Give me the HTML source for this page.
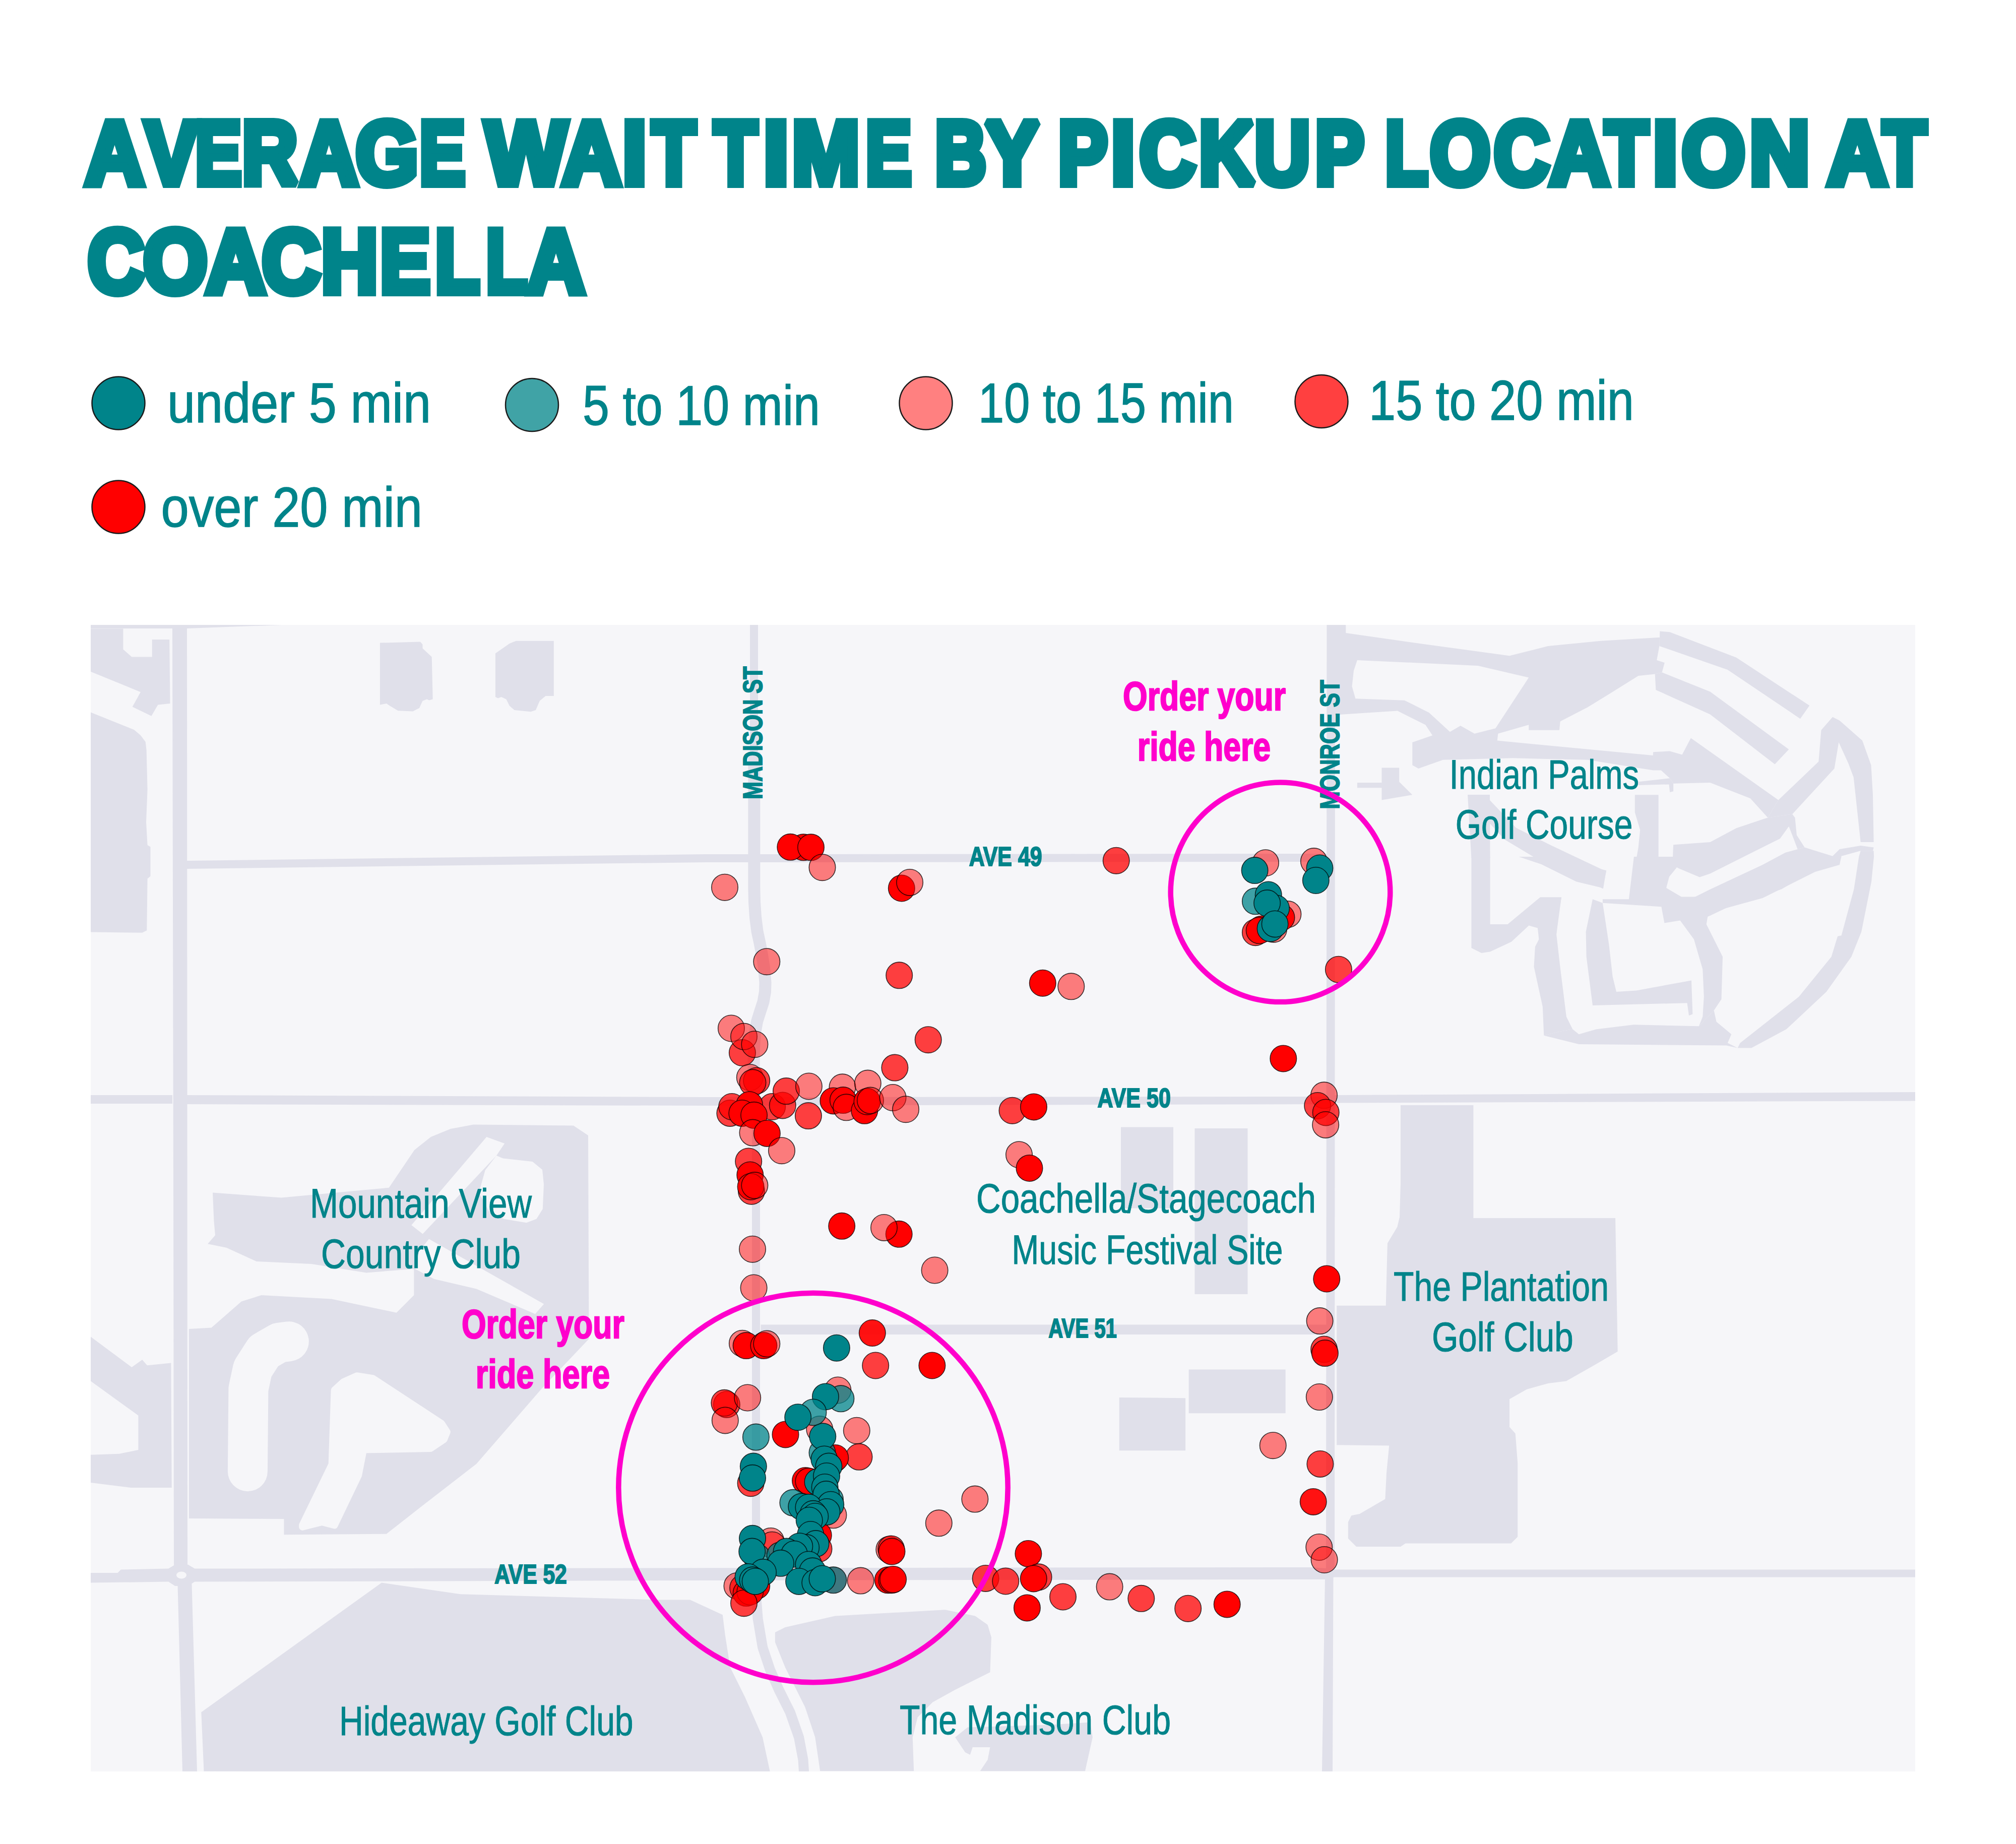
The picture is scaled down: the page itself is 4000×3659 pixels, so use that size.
<!DOCTYPE html>
<html><head><meta charset="utf-8"><title>Average wait time by pickup location at Coachella</title>
<style>
html,body{margin:0;padding:0;background:#fff;}
body{width:4000px;height:3659px;overflow:hidden;font-family:"Liberation Sans",sans-serif;}
svg{display:block;font-family:"Liberation Sans",sans-serif;}
</style></head><body>
<svg width="4000" height="3659" viewBox="0 0 4000 3659">
<g font-size="178" font-weight="bold" fill="#00848a" stroke="#00848a" stroke-width="16" stroke-linejoin="miter" stroke-miterlimit="2">
<text x="169.0" y="364.6" textLength="116.9" lengthAdjust="spacingAndGlyphs">A</text>
<text x="287.4" y="364.6" textLength="104.7" lengthAdjust="spacingAndGlyphs">V</text>
<text x="387.5" y="364.6" textLength="91.5" lengthAdjust="spacingAndGlyphs">E</text>
<text x="480.4" y="364.6" textLength="109.8" lengthAdjust="spacingAndGlyphs">R</text>
<text x="595.6" y="364.6" textLength="114.4" lengthAdjust="spacingAndGlyphs">A</text>
<text x="706.1" y="364.6" textLength="123.6" lengthAdjust="spacingAndGlyphs">G</text>
<text x="832.4" y="364.6" textLength="90.5" lengthAdjust="spacingAndGlyphs">E</text>
<text x="963.1" y="364.6" textLength="161.3" lengthAdjust="spacingAndGlyphs">W</text>
<text x="1115.2" y="364.6" textLength="116.7" lengthAdjust="spacingAndGlyphs">A</text>
<text x="1235.2" y="364.6" textLength="47.5" lengthAdjust="spacingAndGlyphs">I</text>
<text x="1293.8" y="364.6" textLength="86.4" lengthAdjust="spacingAndGlyphs">T</text>
<text x="1416.7" y="364.6" textLength="85.5" lengthAdjust="spacingAndGlyphs">T</text>
<text x="1515.1" y="364.6" textLength="49.5" lengthAdjust="spacingAndGlyphs">I</text>
<text x="1571.4" y="364.6" textLength="134.1" lengthAdjust="spacingAndGlyphs">M</text>
<text x="1717.7" y="364.6" textLength="90.7" lengthAdjust="spacingAndGlyphs">E</text>
<text x="1855.3" y="364.6" textLength="101.5" lengthAdjust="spacingAndGlyphs">B</text>
<text x="1955.3" y="364.6" textLength="106.1" lengthAdjust="spacingAndGlyphs">Y</text>
<text x="2099.7" y="364.6" textLength="97.6" lengthAdjust="spacingAndGlyphs">P</text>
<text x="2204.7" y="364.6" textLength="47.0" lengthAdjust="spacingAndGlyphs">I</text>
<text x="2260.9" y="364.6" textLength="111.0" lengthAdjust="spacingAndGlyphs">C</text>
<text x="2379.2" y="364.6" textLength="109.3" lengthAdjust="spacingAndGlyphs">K</text>
<text x="2489.4" y="364.6" textLength="109.9" lengthAdjust="spacingAndGlyphs">U</text>
<text x="2609.5" y="364.6" textLength="96.9" lengthAdjust="spacingAndGlyphs">P</text>
<text x="2748.5" y="364.6" textLength="84.5" lengthAdjust="spacingAndGlyphs">L</text>
<text x="2837.6" y="364.6" textLength="119.4" lengthAdjust="spacingAndGlyphs">O</text>
<text x="2964.3" y="364.6" textLength="109.6" lengthAdjust="spacingAndGlyphs">C</text>
<text x="3074.7" y="364.6" textLength="117.9" lengthAdjust="spacingAndGlyphs">A</text>
<text x="3184.6" y="364.6" textLength="85.8" lengthAdjust="spacingAndGlyphs">T</text>
<text x="3279.8" y="364.6" textLength="48.8" lengthAdjust="spacingAndGlyphs">I</text>
<text x="3337.3" y="364.6" textLength="125.2" lengthAdjust="spacingAndGlyphs">O</text>
<text x="3471.4" y="364.6" textLength="119.0" lengthAdjust="spacingAndGlyphs">N</text>
<text x="3626.1" y="364.6" textLength="118.4" lengthAdjust="spacingAndGlyphs">A</text>
<text x="3735.8" y="364.6" textLength="86.4" lengthAdjust="spacingAndGlyphs">T</text>
</g>
<g font-size="178" font-weight="bold" fill="#00848a" stroke="#00848a" stroke-width="16" stroke-linejoin="miter" stroke-miterlimit="2">
<text x="174.3" y="580.0" textLength="111.7" lengthAdjust="spacingAndGlyphs">C</text>
<text x="284.4" y="580.0" textLength="126.8" lengthAdjust="spacingAndGlyphs">O</text>
<text x="408.7" y="580.0" textLength="117.7" lengthAdjust="spacingAndGlyphs">A</text>
<text x="520.1" y="580.0" textLength="115.5" lengthAdjust="spacingAndGlyphs">C</text>
<text x="637.6" y="580.0" textLength="112.1" lengthAdjust="spacingAndGlyphs">H</text>
<text x="754.3" y="580.0" textLength="99.1" lengthAdjust="spacingAndGlyphs">E</text>
<text x="863.5" y="580.0" textLength="87.9" lengthAdjust="spacingAndGlyphs">L</text>
<text x="964.5" y="580.0" textLength="81.4" lengthAdjust="spacingAndGlyphs">L</text>
<text x="1046.0" y="580.0" textLength="114.1" lengthAdjust="spacingAndGlyphs">A</text>
</g>
<circle cx="235" cy="800" r="52.5" fill="#00848a" stroke="#1a1a1a" stroke-width="2.5"/>
<text x="332" y="838" font-size="111" font-weight="normal" fill="#00848a" textLength="523" lengthAdjust="spacingAndGlyphs" stroke="#00848a" stroke-width="1.5">under 5 min</text>
<circle cx="1055.5" cy="803.5" r="52.5" fill="#40a3a6" stroke="#1a1a1a" stroke-width="2.5"/>
<text x="1156" y="843" font-size="111" font-weight="normal" fill="#00848a" textLength="471" lengthAdjust="spacingAndGlyphs" stroke="#00848a" stroke-width="1.5">5 to 10 min</text>
<circle cx="1837" cy="800" r="52.5" fill="#ff8080" stroke="#1a1a1a" stroke-width="2.5"/>
<text x="1941" y="838" font-size="111" font-weight="normal" fill="#00848a" textLength="507" lengthAdjust="spacingAndGlyphs" stroke="#00848a" stroke-width="1.5">10 to 15 min</text>
<circle cx="2622" cy="796.5" r="52.5" fill="#ff4040" stroke="#1a1a1a" stroke-width="2.5"/>
<text x="2716" y="833" font-size="111" font-weight="normal" fill="#00848a" textLength="526" lengthAdjust="spacingAndGlyphs" stroke="#00848a" stroke-width="1.5">15 to 20 min</text>
<circle cx="235" cy="1006" r="52.5" fill="#ff0000" stroke="#1a1a1a" stroke-width="2.5"/>
<text x="319.5" y="1044.5" font-size="111" font-weight="normal" fill="#00848a" textLength="518.5" lengthAdjust="spacingAndGlyphs" stroke="#00848a" stroke-width="1.5">over 20 min</text>
<defs><clipPath id="mc"><rect x="180" y="1240" width="3620" height="2275"/></clipPath></defs>
<rect x="180" y="1240" width="3620" height="2275" fill="#f6f6f9"/>
<g clip-path="url(#mc)">
<polygon points="180,1240 560,1240 371,1247 180,1247" fill="#e0e0ea" />
<polygon points="342,1240 371,1240 372,3105 380,3125 391,3515 362,3515 352,3125 345,3105 344,2350" fill="#e0e0ea" />
<polygon points="371,1708 1400,1695 2632,1694 2632,1710 1400,1711 371,1724" fill="#e0e0ea" />
<polygon points="180,2173 342,2173 342,2190 180,2190" fill="#e0e0ea" />
<polygon points="371,2173 1400,2177 2632,2176 2649,2173 3800,2167 3800,2184.5 2649,2188.5 2632,2191 1400,2194 371,2191" fill="#e0e0ea" />
<polygon points="1509.5,2628.5 2600,2628.5 2600,2648 1509.5,2648" fill="#e0e0ea" />
<polygon points="2599,2628.5 2632,2628.5 2632,2648 2599,2648" fill="#e0e0ea" />
<polygon points="180,3121 233.4,3121 239.9,3114.5 334.2,3112.6 347.3,3104.8 373.3,3104.8 386.3,3112.6 1400,3111.3 2600,3110 2632,3112 2647,3114.5 3800,3114.5 3800,3129.5 2647,3129.5 2632,3134 2600,3134 1400,3136 386.3,3138.6 373.3,3147.1 347.3,3147.1 334.2,3138.6 180,3140.6" fill="#e0e0ea" />
<ellipse cx="360" cy="3125.5" rx="10" ry="7" fill="#f6f6f9"/>
<polyline points="1496.3,1492 1496.3,1760 1497,1790 1499,1820 1502.5,1848 1507.7,1872 1512,1895 1516,1920 1518.5,1949.5 1518,1968 1514.5,1988 1508,2008 1502,2027 1498,2050 1496,2080 1495.5,2120 1496,2192" fill="none" stroke="#e0e0ea" stroke-width="24" stroke-linejoin="round"/>
<rect x="1492" y="2185" width="16" height="930" fill="#e0e0ea"/>
<rect x="1488" y="1236" width="16" height="262" fill="#e0e0ea"/>
<polygon points="2632.5,1240 2670,1240 2670,1250 2649,1250 2648,3120 2645.5,3130 2644,3515 2623,3515 2629,3130 2631,3120" fill="#e0e0ea" />
<polygon points="180,1247.6 244.4,1247.6 244.4,1288.6 261.4,1303.6 301.7,1303.6 301.7,1269.1 336.2,1269.1 337.5,1395.9 313.4,1398.6 300.4,1420.7 262.7,1402.5 278.9,1373.2 180,1332.8" fill="#e0e0ea" />
<polygon points="180,1413.5 265.9,1448 278.9,1459.1 288.7,1472.1 290.6,1488.3 292.6,1566.4 290,1631.5 292.6,1677 298.5,1680.3 298.5,1738.8 292.6,1743.4 291.3,1846.2 282.2,1850.8 180,1849.5" fill="#e0e0ea" />
<polygon points="753.9,1275.6 833.9,1273.6 838.5,1278.8 838.5,1286.6 856.7,1303.6 858.7,1387.5 851.5,1389.4 847,1387.5 838.5,1390.7 832,1405.1 819,1411.6 789.7,1410.3 773.4,1400.5 766.9,1395.9 753.9,1398.6" fill="#e0e0ea" />
<polygon points="1023.9,1271.7 1098.8,1271.7 1098.8,1381 1082.5,1381 1070.8,1390.7 1063,1409 1053.2,1412.2 1020.7,1409 1010.9,1400.5 1004.4,1387.5 994.7,1382.9 988.2,1385.5 982.9,1382.9 982.9,1296.4 1010.9,1276.9" fill="#e0e0ea" />
<polygon points="2224,2236.5 2328,2236.5 2328,2397.5 2224,2397.5" fill="#e0e0ea" />
<polygon points="2370.5,2239 2475.5,2239 2475.5,2568 2370.5,2568" fill="#e0e0ea" />
<polygon points="2220.7,2772.9 2352.1,2774.2 2352.1,2878.3 2220.7,2878.3" fill="#e0e0ea" />
<polygon points="2358.6,2717.6 2550.6,2717.6 2550.6,2804.2 2358.6,2804.2" fill="#e0e0ea" />
<polygon points="2778.9,2193 2923.4,2193 2923.4,2349.8 2923.4,2417 3205.1,2417 3209.7,2681.8 3159.6,2711.1 3107.5,2740.4 3071.7,2745 3029.4,2756.7 2995,2776.2 2995,2831.5 3006.7,2844.5 3011.2,2903.1 3011.2,3049.5 2998.2,3062.5 2788.7,3062.5 2778.9,3069 2691.1,3069 2674.8,3052.7 2674.8,3020.2 2681.3,3007.2 2697.6,3003.9 2748.4,2974.6 2751,2922.6 2756.2,2868.6 2652.1,2867.3 2652.1,2590.7 2749.7,2590.7 2752.9,2467.1 2772.4,2434.6 2777,2415.1 2778.9,2349.8" fill="#e0e0ea" />
<polygon points="757.2,3140.6 913.3,3163.3 1368.8,3176.3 1280,3174.4 1369.3,3174.4 1433.8,3204.2 1438.7,3243.8 1448.7,3308.3 1478.4,3367.9 1513.1,3447.2 1528,3516.7 404.5,3514.7 399.3,3397.6" fill="#e0e0ea" />
<polygon points="180,2652.6 261.4,2713.1 282.2,2698.1 291.9,2709.2 339.4,2704.6 340.7,2951.9 259.4,2951.9 180,2942.1 180,2886.8 236.6,2884.8 274.4,2877 274.4,2808.7 180,2740.4" fill="#e0e0ea" />
<polygon points="422,2366.6 558.4,2376.6 771.7,2356.7 822.2,2282 854.8,2256 893.8,2240 939.3,2231.4 1137.8,2233.4 1167,2253 1168.5,2656.8 1074.3,2756 945.3,2904.8 836.2,2989.2 766.7,3043.7 563.4,3045.2 563.4,3014 374.9,3013 374.9,2637 419.5,2634.5 479,2582.4 518.7,2570 657.6,2577.5 786.6,2604.7 821.3,2570 821.3,2517.9 727.1,2525.4 617.9,2508 508.8,2503.1 449.3,2475.8 412.1,2468.3 427,2451 424.5,2423.7" fill="#e0e0ea" />
<polygon points="965.4,2256 1001.2,2269 985,2293 838.7,2448.5 816.3,2431.1" fill="#f6f6f9" />
<polygon points="985,2293 998,2298.4 1056.5,2305 1076,2321 1079,2350 1076.8,2398.9 1064.4,2418.7 1044.5,2426.2 999.9,2418.7 970.1,2403.8 950.3,2366.6 962.7,2322" fill="#f6f6f9" />
<polygon points="851.1,2458.4 1079.2,2587.4 1061.9,2607.2 945.3,2557.6 861,2537.8 823.8,2517.9 831.2,2483.2" fill="#f6f6f9" />
<polyline points="491.4,2919.7 492.9,2756 501.4,2716.3 523.7,2681.6 553.5,2664.3 573.3,2661.8" fill="none" stroke="#f6f6f9" stroke-width="79" stroke-linejoin="round" stroke-linecap="round"/>
<path d="M663.6,2758.5 L681.4,2742.1 L708.2,2730.2 L739.5,2735.2 L875.9,2824.5 L886.8,2841.3 L880.8,2856.2 L854,2874.1 L721.1,2876.6 L711.2,2927.2 L663.6,3026.4 L638.8,3019.9 L600.1,3029.8 L600.1,3026.4 L658.6,2905.8Z" fill="#f6f6f9" stroke="#f6f6f9" stroke-width="14" stroke-linejoin="round"/>
<polygon points="1537.9,3238.9 1557.8,3229 1657,3206.6 1875.2,3194.2 1934.8,3206.6 1959.6,3224 1967,3248.8 1964.5,3318.3 1934.8,3333.1 1895.1,3353 1850.4,3377.8 1820.7,3407.5 1810.8,3447.2 1813.2,3514.2 1627.2,3514.2 1617.3,3447.2 1597.5,3387.7 1557.8,3308.3 1537.9,3258.7" fill="#e0e0ea" />
<polygon points="1895.1,3447.2 1919.9,3427.4 2083.6,3422.4 2162.9,3417.5 2167.9,3447.2 2153,3514.2 1944.7,3514.2 1959.6,3491.9 1964.5,3467.1 1929.8,3467.1 1924.8,3481.9 1914.9,3477" fill="#e0e0ea" />
<polyline points="1499.7,3129.8 1500.7,3174.4 1503.7,3212.6 1513.1,3268.7 1528,3313.3 1545.4,3353 1567.7,3397.6 1585.1,3447.2 1593.5,3491.9 1595.5,3521.6" fill="none" stroke="#e0e0ea" stroke-width="20" stroke-linejoin="round"/>
<polygon points="2647.8,1240.4 2670.3,1240.4 2670.3,1256 2828.3,1278.6 2995,1301.2 3071.4,1282.1 3175.6,1271.7 3293.6,1264.7 3293.4,1252.6 3292.4,1282.1 3287.2,1309.9 3302.8,1315.1 3297.6,1334.2 3283.7,1337.6 3250.7,1341.1 3195.1,1375.8 3149.9,1403.6 3095.7,1431.4 3094,1448.8 3033.2,1448.8 3033.2,1438.3 2972.4,1455.7 2970.7,1469.6 3279.7,1499.1 3280.2,1492.2 3313.2,1490.4 3337.5,1497.4 3354.9,1464.4 3528.5,1587.6 3507.6,1622.4 3472.9,1584.2 3393.1,1552.9 3320.1,1554.7 3313.2,1544.2 3295.8,1528.6 3280.2,1528.6 3150,1507.8 3001.9,1504.3 2863.1,1507.8 2814.4,1525.1 2802.3,1518.2 2802.3,1473.1 2842.2,1459.2 2828.3,1438.3 2772.8,1410.6 2665.1,1417.5 2647.8,1419.2" fill="#e0e0ea" />
<polygon points="3293.4,1252.6 3313.2,1254.3 3445.1,1304.7 3590.3,1400.1 3571.9,1426.2 3427.8,1329 3302.8,1285.6 3292.4,1282.1" fill="#e0e0ea" />
<polygon points="3297.6,1334.2 3393.1,1372.4 3549.3,1486.9 3521.5,1516.5 3393.1,1417.5 3285.4,1368.9 3283.7,1337.6" fill="#e0e0ea" />
<polygon points="3528.5,1587.6 3608.3,1511.2 3613.5,1448.8 3636.1,1422.7 3650,1429.7 3695.1,1469.6 3712.5,1518.2 3716,1577.2 3717.7,1671 3691.7,1671 3677.8,1542.5 3667.4,1514.7 3648.3,1473.1 3639.6,1525.1 3556.2,1615.4 3507.6,1622.4" fill="#e0e0ea" />
<polygon points="3507.6,1622.4 3556.2,1615.4 3561.5,1622.4 3564.9,1657.1 3580.6,1681.4 3566.7,1684.9 3549.3,1639.7 3531.9,1664 3483.3,1688.3 3393.1,1733.5 3372.2,1740.4 3330.6,1723.1 3318.4,1716.1 3320.1,1676.2 3393.1,1671 3445.1,1643.2 3497.2,1625.8" fill="#e0e0ea" />
<polygon points="3302.8,1785.6 3358.3,1782.1 3393.1,1764.7 3497.2,1716.1 3542.4,1691.8 3580.6,1681.4 3636.1,1698.8 3650,1684.9 3691.7,1677.9 3717.7,1681.4 3716,1688.3 3691.7,1688.3 3653.5,1698.8 3650,1716.1 3601.4,1730 3497.2,1782.1 3420.8,1802.9 3393.1,1816.8 3330.6,1823.8 3302.8,1830.7 3295.8,1792.5" fill="#e0e0ea" />
<polygon points="3243.8,1577.2 3290.6,1577.2 3290.6,1716.1 3295.8,1723.1 3318.4,1716.1 3306.2,1761.2 3302.8,1785.6 3295.8,1792.5 3233.3,1782.1 3250.7,1681.4 3254.2,1646.7 3243.8,1611.9" fill="#e0e0ea" />
<polygon points="3250.7,1551.2 3313.2,1544.2 3320.1,1554.7 3320.1,1570.3 3313.2,1572 3311.5,1556.4 3250.7,1558.1" fill="#e0e0ea" />
<polygon points="2741.5,1523.4 2776.2,1523.4 2776.2,1551.2 2802.3,1577.2 2741.5,1587.6 2741.5,1563.3 2692.9,1563.3 2692.9,1552.9 2741.5,1552.9" fill="#e0e0ea" />
<polygon points="3718.1,1700 3713.1,1749.6 3693.3,1848.8 3673.4,1898.4 3623.8,1967.9 3544.4,2042.3 3475,2079.5 3447.7,2079.5 3452.7,2069.5 3569.2,1977.8 3633.7,1898.4 3646.1,1857.7 3653.6,1856.2 3678.4,1764.5 3688.3,1700 3691.7,1688.3 3717.7,1688.3" fill="#e0e0ea" />
<polygon points="2919.4,1700 2956.6,1700 2956.6,1833.9 2991.4,1833.9 3055.9,1780.4 3098,1780.4 3088.1,1853.8 3050.9,1841.4 3033.5,1836.4 2998.8,1868.7 2956.6,1888.5 2939.3,1891 2919.4,1881.1" fill="#e0e0ea" />
<polygon points="2912,1577 2956,1577 2956.6,1702 2919.4,1702" fill="#e0e0ea" />
<polygon points="2953.6,1585.2 3008.2,1642.8 3077.3,1677.3 3186.6,1729.1 3180.9,1763.6 3042.8,1700.3 2985.2,1665.8 2953.6,1631.3" fill="#e0e0ea" />
<polygon points="3055.9,1780.4 3098,1780.4 3090.6,1824 3088.1,1853.8 3095.5,1918.3 3107.9,2017.5 3120.3,2042.3 3093.1,2047.2 3063.3,2054.7 3060.8,1997.6 3043.5,1918.3 3045.9,1878.6 3053.4,1863.7 3050.9,1841.4" fill="#e0e0ea" />
<polygon points="3063.3,2054.7 3093.1,2047.2 3120.3,2042.3 3132.7,2052.2 3167.5,2042.3 3241.9,2033.3 3370.8,2036.3 3400.6,2005.1 3405.6,2027.4 3435.3,2052.2 3427.9,2069.5 3447.7,2079.5 3425.4,2074.5 3132.7,2072" fill="#e0e0ea" />
<polygon points="3160,1784.3 3179.9,1791.8 3192.3,1873.6 3199.7,1938.1 3207.1,1967.9 3246.8,1965.4 3356,1945.5 3358.4,2012.5 3351,2015 3347.5,1990.2 3160,1995.1 3147.6,1898.4 3146.6,1848.8" fill="#e0e0ea" />
<polygon points="3296.4,1799.2 3302.4,1831.4 3333.6,1826.5 3360.9,1863.7 3378.3,1923.2 3380.8,1977.8 3378.3,2017.5 3370.8,2036.3 3400.6,2005.1 3415.5,1982.7 3418,1898.4 3385.7,1833.9 3388.2,1819 3430.4,1799.2 3534.5,1764.5 3594,1729.8 3648.6,1714.9 3653.6,1700 3529.6,1700 3514.7,1714.9 3435.3,1759.5 3385.7,1779.4 3336.1,1779.4 3306.3,1762 3303.9,1749.6 3326.2,1722.3 3341.1,1700 3241.9,1700 3231.9,1784.3 3179.9,1784.3 3179.9,1791.8" fill="#e0e0ea" />
<polygon points="3013.7,1700 3058.3,1700 3117.9,1709.9 3187.3,1727.3 3179.9,1762 3127.8,1749.6 3058.3,1714.9" fill="#e0e0ea" />
<polygon points="2692.9,1309.9 2932.5,1321 3033.2,1344.6 2967.2,1445.3 2925.6,1455.7 2897.8,1440.1 2876.9,1452.2 2835.3,1414 2786.7,1389.7 2689.4,1386.2 2682.5,1361.9 2686,1330.7" fill="#f6f6f9" />
</g>
<g stroke="#000" stroke-opacity=".75" stroke-width="1.6">
<circle cx="1594.1" cy="1681.3" r="26.2" fill="#ff0000" fill-opacity="1"/>
<circle cx="1568.3" cy="1680.8" r="26.2" fill="#ff0000" fill-opacity="1"/>
<circle cx="1609.0" cy="1681.3" r="26.2" fill="#ff0000" fill-opacity="1"/>
<circle cx="1631.5" cy="1721.2" r="26.2" fill="#ff0000" fill-opacity="0.5"/>
<circle cx="1438.0" cy="1760.7" r="26.2" fill="#ff0000" fill-opacity="0.5"/>
<circle cx="1788.8" cy="1762.5" r="26.2" fill="#ff0000" fill-opacity="1"/>
<circle cx="1805.1" cy="1750.9" r="26.2" fill="#ff0000" fill-opacity="0.5"/>
<circle cx="1521.3" cy="1908.2" r="26.2" fill="#ff0000" fill-opacity="0.5"/>
<circle cx="1784.2" cy="1935.3" r="26.2" fill="#ff0000" fill-opacity="0.75"/>
<circle cx="1472.9" cy="2089.0" r="26.2" fill="#ff0000" fill-opacity="0.75"/>
<circle cx="1450.9" cy="2040.5" r="26.2" fill="#ff0000" fill-opacity="0.5"/>
<circle cx="1476.0" cy="2056.7" r="26.2" fill="#ff0000" fill-opacity="0.5"/>
<circle cx="1497.4" cy="2072.2" r="26.2" fill="#ff0000" fill-opacity="0.5"/>
<circle cx="1487.8" cy="2138.0" r="26.2" fill="#ff0000" fill-opacity="0.5"/>
<circle cx="1501.2" cy="2144.4" r="26.2" fill="#ff0000" fill-opacity="0.75"/>
<circle cx="1493.5" cy="2148.3" r="26.2" fill="#ff0000" fill-opacity="0.75"/>
<circle cx="1448.4" cy="2208.9" r="26.2" fill="#ff0000" fill-opacity="0.75"/>
<circle cx="1452.2" cy="2196.0" r="26.2" fill="#ff0000" fill-opacity="0.75"/>
<circle cx="1532.2" cy="2196.0" r="26.2" fill="#ff0000" fill-opacity="0.75"/>
<circle cx="1552.8" cy="2193.4" r="26.2" fill="#ff0000" fill-opacity="0.75"/>
<circle cx="1560.0" cy="2165.1" r="26.2" fill="#ff0000" fill-opacity="0.75"/>
<circle cx="1487.0" cy="2192.2" r="26.2" fill="#ff0000" fill-opacity="1"/>
<circle cx="1472.3" cy="2208.9" r="26.2" fill="#ff0000" fill-opacity="1"/>
<circle cx="1496.1" cy="2212.8" r="26.2" fill="#ff0000" fill-opacity="1"/>
<circle cx="1493.5" cy="2247.6" r="26.2" fill="#ff0000" fill-opacity="0.5"/>
<circle cx="1521.9" cy="2248.9" r="26.2" fill="#ff0000" fill-opacity="1"/>
<circle cx="1551.0" cy="2283.2" r="26.2" fill="#ff0000" fill-opacity="0.5"/>
<circle cx="1604.9" cy="2155.5" r="26.2" fill="#ff0000" fill-opacity="0.5"/>
<circle cx="1603.9" cy="2214.1" r="26.2" fill="#ff0000" fill-opacity="0.75"/>
<circle cx="1671.5" cy="2157.3" r="26.2" fill="#ff0000" fill-opacity="0.5"/>
<circle cx="1653.4" cy="2184.4" r="26.2" fill="#ff0000" fill-opacity="1"/>
<circle cx="1672.8" cy="2183.1" r="26.2" fill="#ff0000" fill-opacity="1"/>
<circle cx="1679.2" cy="2197.3" r="26.2" fill="#ff0000" fill-opacity="0.5"/>
<circle cx="1721.8" cy="2149.6" r="26.2" fill="#ff0000" fill-opacity="0.5"/>
<circle cx="1715.3" cy="2203.8" r="26.2" fill="#ff0000" fill-opacity="1"/>
<circle cx="1720.5" cy="2185.7" r="26.2" fill="#ff0000" fill-opacity="1"/>
<circle cx="1726.9" cy="2183.6" r="26.2" fill="#ff0000" fill-opacity="0.5"/>
<circle cx="1771.5" cy="2178.0" r="26.2" fill="#ff0000" fill-opacity="0.5"/>
<circle cx="1797.1" cy="2201.2" r="26.2" fill="#ff0000" fill-opacity="0.5"/>
<circle cx="1775.4" cy="2118.6" r="26.2" fill="#ff0000" fill-opacity="0.75"/>
<circle cx="1841.7" cy="2063.2" r="26.2" fill="#ff0000" fill-opacity="0.75"/>
<circle cx="1485.2" cy="2304.4" r="26.2" fill="#ff0000" fill-opacity="0.75"/>
<circle cx="1488.3" cy="2331.4" r="26.2" fill="#ff0000" fill-opacity="1"/>
<circle cx="1490.9" cy="2363.7" r="26.2" fill="#ff0000" fill-opacity="0.75"/>
<circle cx="1489.6" cy="2354.7" r="26.2" fill="#ff0000" fill-opacity="1"/>
<circle cx="1497.4" cy="2352.1" r="26.2" fill="#ff0000" fill-opacity="0.5"/>
<circle cx="1670.2" cy="2432.8" r="26.2" fill="#ff0000" fill-opacity="1"/>
<circle cx="1783.7" cy="2448.8" r="26.2" fill="#ff0000" fill-opacity="1"/>
<circle cx="1754.0" cy="2435.9" r="26.2" fill="#ff0000" fill-opacity="0.5"/>
<circle cx="1493.0" cy="2478.7" r="26.2" fill="#ff0000" fill-opacity="0.5"/>
<circle cx="1495.6" cy="2555.5" r="26.2" fill="#ff0000" fill-opacity="0.5"/>
<circle cx="1854.6" cy="2520.5" r="26.2" fill="#ff0000" fill-opacity="0.5"/>
<circle cx="1472.9" cy="2665.7" r="26.2" fill="#ff0000" fill-opacity="0.5"/>
<circle cx="1480.6" cy="2670.1" r="26.2" fill="#ff0000" fill-opacity="1"/>
<circle cx="1515.4" cy="2670.1" r="26.2" fill="#ff0000" fill-opacity="1"/>
<circle cx="1521.3" cy="2666.4" r="26.2" fill="#ff0000" fill-opacity="0.5"/>
<circle cx="1659.9" cy="2674.7" r="26.2" fill="#00848a" fill-opacity="1"/>
<circle cx="1730.8" cy="2645.0" r="26.2" fill="#ff0000" fill-opacity="0.93"/>
<circle cx="1737.2" cy="2709.5" r="26.2" fill="#ff0000" fill-opacity="0.75"/>
<circle cx="1849.4" cy="2709.5" r="26.2" fill="#ff0000" fill-opacity="1"/>
<circle cx="1662.4" cy="2758.5" r="26.2" fill="#ff0000" fill-opacity="0.5"/>
<circle cx="1668.4" cy="2775.3" r="26.2" fill="#00848a" fill-opacity="0.75"/>
<circle cx="1637.9" cy="2771.4" r="26.2" fill="#00848a" fill-opacity="1"/>
<circle cx="1441.9" cy="2786.9" r="26.2" fill="#ff0000" fill-opacity="0.75"/>
<circle cx="1437.3" cy="2783.8" r="26.2" fill="#ff0000" fill-opacity="0.75"/>
<circle cx="1483.2" cy="2773.5" r="26.2" fill="#ff0000" fill-opacity="0.5"/>
<circle cx="1438.8" cy="2818.4" r="26.2" fill="#ff0000" fill-opacity="0.5"/>
<circle cx="1489.6" cy="2943.2" r="26.2" fill="#ff0000" fill-opacity="0.75"/>
<circle cx="1558.5" cy="2846.4" r="26.2" fill="#ff0000" fill-opacity="1"/>
<circle cx="1626.3" cy="2836.1" r="26.2" fill="#ff0000" fill-opacity="0.5"/>
<circle cx="1699.8" cy="2838.7" r="26.2" fill="#ff0000" fill-opacity="0.5"/>
<circle cx="1704.5" cy="2890.8" r="26.2" fill="#ff0000" fill-opacity="0.75"/>
<circle cx="1653.4" cy="2896.7" r="26.2" fill="#ff0000" fill-opacity="1"/>
<circle cx="1657.3" cy="2892.9" r="26.2" fill="#ff0000" fill-opacity="1"/>
<circle cx="1598.0" cy="2938.0" r="26.2" fill="#ff0000" fill-opacity="1"/>
<circle cx="1604.4" cy="2939.3" r="26.2" fill="#ff0000" fill-opacity="1"/>
<circle cx="1653.4" cy="3006.3" r="26.2" fill="#ff0000" fill-opacity="0.5"/>
<circle cx="1623.7" cy="3046.3" r="26.2" fill="#ff0000" fill-opacity="1"/>
<circle cx="1624.5" cy="3073.4" r="26.2" fill="#ff0000" fill-opacity="0.75"/>
<circle cx="1529.6" cy="3057.9" r="26.2" fill="#ff0000" fill-opacity="0.5"/>
<circle cx="1532.2" cy="3065.7" r="26.2" fill="#ff0000" fill-opacity="0.5"/>
<circle cx="1862.8" cy="3022.3" r="26.2" fill="#ff0000" fill-opacity="0.5"/>
<circle cx="1764.3" cy="3074.7" r="26.2" fill="#ff0000" fill-opacity="0.5"/>
<circle cx="1768.2" cy="3073.4" r="26.2" fill="#ff0000" fill-opacity="0.75"/>
<circle cx="1769.5" cy="3078.6" r="26.2" fill="#ff0000" fill-opacity="1"/>
<circle cx="1707.6" cy="3136.6" r="26.2" fill="#ff0000" fill-opacity="0.5"/>
<circle cx="1761.7" cy="3135.3" r="26.2" fill="#ff0000" fill-opacity="1"/>
<circle cx="1769.5" cy="3135.3" r="26.2" fill="#ff0000" fill-opacity="1"/>
<circle cx="1772.1" cy="3134.0" r="26.2" fill="#ff0000" fill-opacity="1"/>
<circle cx="1462.5" cy="3146.9" r="26.2" fill="#ff0000" fill-opacity="0.5"/>
<circle cx="1474.1" cy="3150.8" r="26.2" fill="#ff0000" fill-opacity="0.75"/>
<circle cx="1501.2" cy="3146.9" r="26.2" fill="#ff0000" fill-opacity="1"/>
<circle cx="1480.6" cy="3161.1" r="26.2" fill="#ff0000" fill-opacity="1"/>
<circle cx="1488.3" cy="3158.5" r="26.2" fill="#ff0000" fill-opacity="1"/>
<circle cx="1476.0" cy="3181.2" r="26.2" fill="#ff0000" fill-opacity="0.75"/>
<circle cx="1499.9" cy="2851.6" r="26.2" fill="#00848a" fill-opacity="0.75"/>
<circle cx="1631.5" cy="2882.5" r="26.2" fill="#00848a" fill-opacity="0.75"/>
<circle cx="1573.4" cy="2981.8" r="26.2" fill="#00848a" fill-opacity="0.75"/>
<circle cx="1647.0" cy="2975.4" r="26.2" fill="#00848a" fill-opacity="0.75"/>
<circle cx="1501.2" cy="3088.9" r="26.2" fill="#00848a" fill-opacity="0.75"/>
<circle cx="1547.7" cy="3086.3" r="26.2" fill="#00848a" fill-opacity="0.75"/>
<circle cx="1653.4" cy="3135.3" r="26.2" fill="#2a6a72" fill-opacity="0.9"/>
<circle cx="1632.3" cy="2850.3" r="26.2" fill="#00848a" fill-opacity="1"/>
<circle cx="1635.4" cy="2895.4" r="26.2" fill="#00848a" fill-opacity="1"/>
<circle cx="1644.4" cy="2909.6" r="26.2" fill="#00848a" fill-opacity="1"/>
<circle cx="1494.8" cy="2909.6" r="26.2" fill="#00848a" fill-opacity="1"/>
<circle cx="1493.0" cy="2932.8" r="26.2" fill="#00848a" fill-opacity="1"/>
<circle cx="1622.5" cy="2940.6" r="26.2" fill="#00848a" fill-opacity="1"/>
<circle cx="1640.0" cy="2929.0" r="26.2" fill="#00848a" fill-opacity="1"/>
<circle cx="1636.6" cy="2950.9" r="26.2" fill="#00848a" fill-opacity="1"/>
<circle cx="1639.2" cy="2965.1" r="26.2" fill="#00848a" fill-opacity="1"/>
<circle cx="1648.2" cy="2985.7" r="26.2" fill="#00848a" fill-opacity="1"/>
<circle cx="1590.2" cy="2989.6" r="26.2" fill="#00848a" fill-opacity="1"/>
<circle cx="1604.4" cy="2990.9" r="26.2" fill="#00848a" fill-opacity="1"/>
<circle cx="1640.5" cy="2999.9" r="26.2" fill="#00848a" fill-opacity="1"/>
<circle cx="1613.4" cy="3003.8" r="26.2" fill="#00848a" fill-opacity="1"/>
<circle cx="1617.3" cy="3008.9" r="26.2" fill="#00848a" fill-opacity="1"/>
<circle cx="1605.7" cy="3016.7" r="26.2" fill="#00848a" fill-opacity="1"/>
<circle cx="1608.3" cy="3045.0" r="26.2" fill="#00848a" fill-opacity="1"/>
<circle cx="1618.6" cy="3063.1" r="26.2" fill="#00848a" fill-opacity="1"/>
<circle cx="1599.2" cy="3070.8" r="26.2" fill="#00848a" fill-opacity="1"/>
<circle cx="1586.3" cy="3068.2" r="26.2" fill="#00848a" fill-opacity="1"/>
<circle cx="1560.6" cy="3078.6" r="26.2" fill="#00848a" fill-opacity="1"/>
<circle cx="1576.0" cy="3083.7" r="26.2" fill="#00848a" fill-opacity="1"/>
<circle cx="1493.0" cy="3052.8" r="26.2" fill="#00848a" fill-opacity="1"/>
<circle cx="1492.2" cy="3078.6" r="26.2" fill="#00848a" fill-opacity="1"/>
<circle cx="1548.9" cy="3101.8" r="26.2" fill="#00848a" fill-opacity="1"/>
<circle cx="1604.4" cy="3104.4" r="26.2" fill="#00848a" fill-opacity="1"/>
<circle cx="1612.1" cy="3117.3" r="26.2" fill="#00848a" fill-opacity="1"/>
<circle cx="1514.1" cy="3119.8" r="26.2" fill="#00848a" fill-opacity="1"/>
<circle cx="1484.5" cy="3128.9" r="26.2" fill="#00848a" fill-opacity="1"/>
<circle cx="1493.5" cy="3135.3" r="26.2" fill="#00848a" fill-opacity="1"/>
<circle cx="1498.6" cy="3137.9" r="26.2" fill="#00848a" fill-opacity="1"/>
<circle cx="1585.1" cy="3137.9" r="26.2" fill="#00848a" fill-opacity="1"/>
<circle cx="1617.3" cy="3140.5" r="26.2" fill="#00848a" fill-opacity="1"/>
<circle cx="1631.5" cy="3132.7" r="26.2" fill="#00848a" fill-opacity="1"/>
<circle cx="1613.4" cy="2802.4" r="26.2" fill="#00848a" fill-opacity="0.75"/>
<circle cx="1583.2" cy="2812.2" r="26.2" fill="#00848a" fill-opacity="1"/>
<circle cx="2511.0" cy="1712.2" r="26.2" fill="#ff0000" fill-opacity="0.5"/>
<circle cx="2489.6" cy="1727.1" r="26.2" fill="#00848a" fill-opacity="1"/>
<circle cx="2606.9" cy="1709.1" r="26.2" fill="#ff0000" fill-opacity="0.5"/>
<circle cx="2618.5" cy="1722.5" r="26.2" fill="#00848a" fill-opacity="1"/>
<circle cx="2610.8" cy="1747.0" r="26.2" fill="#00848a" fill-opacity="1"/>
<circle cx="2490.9" cy="1850.2" r="26.2" fill="#ff0000" fill-opacity="0.75"/>
<circle cx="2502.5" cy="1843.7" r="26.2" fill="#ff0000" fill-opacity="1"/>
<circle cx="2498.6" cy="1846.3" r="26.2" fill="#ff0000" fill-opacity="1"/>
<circle cx="2555.4" cy="1814.1" r="26.2" fill="#ff0000" fill-opacity="0.5"/>
<circle cx="2542.5" cy="1820.5" r="26.2" fill="#ff0000" fill-opacity="1"/>
<circle cx="2527.0" cy="1843.7" r="26.2" fill="#ff0000" fill-opacity="0.5"/>
<circle cx="2490.9" cy="1788.3" r="26.2" fill="#00848a" fill-opacity="0.75"/>
<circle cx="2516.7" cy="1775.4" r="26.2" fill="#00848a" fill-opacity="1"/>
<circle cx="2532.1" cy="1802.5" r="26.2" fill="#00848a" fill-opacity="1"/>
<circle cx="2514.1" cy="1792.1" r="26.2" fill="#00848a" fill-opacity="1"/>
<circle cx="2520.5" cy="1842.4" r="26.2" fill="#00848a" fill-opacity="1"/>
<circle cx="2529.6" cy="1833.4" r="26.2" fill="#00848a" fill-opacity="1"/>
<circle cx="2655.9" cy="1923.7" r="26.2" fill="#ff0000" fill-opacity="0.75"/>
<circle cx="2214.7" cy="1707.7" r="26.2" fill="#ff0000" fill-opacity="0.75"/>
<circle cx="2068.8" cy="1950.7" r="26.2" fill="#ff0000" fill-opacity="1"/>
<circle cx="2125.3" cy="1957.3" r="26.2" fill="#ff0000" fill-opacity="0.5"/>
<circle cx="2546.3" cy="2100.4" r="26.2" fill="#ff0000" fill-opacity="1"/>
<circle cx="2008.5" cy="2203.7" r="26.2" fill="#ff0000" fill-opacity="0.75"/>
<circle cx="2051.0" cy="2196.4" r="26.2" fill="#ff0000" fill-opacity="1"/>
<circle cx="2022.0" cy="2291.2" r="26.2" fill="#ff0000" fill-opacity="0.5"/>
<circle cx="2042.5" cy="2317.9" r="26.2" fill="#ff0000" fill-opacity="1"/>
<circle cx="2627.1" cy="2173.3" r="26.2" fill="#ff0000" fill-opacity="0.5"/>
<circle cx="2614.2" cy="2194.0" r="26.2" fill="#ff0000" fill-opacity="0.75"/>
<circle cx="2630.7" cy="2207.4" r="26.2" fill="#ff0000" fill-opacity="0.75"/>
<circle cx="2630.2" cy="2231.9" r="26.2" fill="#ff0000" fill-opacity="0.5"/>
<circle cx="2632.3" cy="2537.5" r="26.2" fill="#ff0000" fill-opacity="1"/>
<circle cx="2618.6" cy="2621.1" r="26.2" fill="#ff0000" fill-opacity="0.5"/>
<circle cx="2627.1" cy="2677.4" r="26.2" fill="#ff0000" fill-opacity="0.75"/>
<circle cx="2628.9" cy="2685.1" r="26.2" fill="#ff0000" fill-opacity="0.93"/>
<circle cx="2617.8" cy="2772.0" r="26.2" fill="#ff0000" fill-opacity="0.5"/>
<circle cx="2525.7" cy="2868.2" r="26.2" fill="#ff0000" fill-opacity="0.5"/>
<circle cx="2619.4" cy="2904.9" r="26.2" fill="#ff0000" fill-opacity="0.75"/>
<circle cx="2605.7" cy="2979.9" r="26.2" fill="#ff0000" fill-opacity="0.93"/>
<circle cx="2617.3" cy="3070.0" r="26.2" fill="#ff0000" fill-opacity="0.5"/>
<circle cx="2627.6" cy="3095.0" r="26.2" fill="#ff0000" fill-opacity="0.5"/>
<circle cx="2434.7" cy="3183.4" r="26.2" fill="#ff0000" fill-opacity="1"/>
<circle cx="1955.6" cy="3131.9" r="26.2" fill="#ff0000" fill-opacity="0.75"/>
<circle cx="1995.3" cy="3137.5" r="26.2" fill="#ff0000" fill-opacity="0.75"/>
<circle cx="2040.4" cy="3082.9" r="26.2" fill="#ff0000" fill-opacity="1"/>
<circle cx="2060.6" cy="3129.3" r="26.2" fill="#ff0000" fill-opacity="0.75"/>
<circle cx="2050.8" cy="3132.4" r="26.2" fill="#ff0000" fill-opacity="1"/>
<circle cx="2037.9" cy="3190.4" r="26.2" fill="#ff0000" fill-opacity="1"/>
<circle cx="2109.0" cy="3168.5" r="26.2" fill="#ff0000" fill-opacity="0.75"/>
<circle cx="2201.6" cy="3148.6" r="26.2" fill="#ff0000" fill-opacity="0.5"/>
<circle cx="2264.3" cy="3171.8" r="26.2" fill="#ff0000" fill-opacity="0.75"/>
<circle cx="2357.2" cy="3191.7" r="26.2" fill="#ff0000" fill-opacity="0.75"/>
<circle cx="1934.4" cy="2974.6" r="26.2" fill="#ff0000" fill-opacity="0.5"/>
</g>
<text x="2875.7" y="1564.5" font-size="82" font-weight="normal" fill="#00848a" textLength="376.5" lengthAdjust="spacingAndGlyphs" stroke="#00848a" stroke-width="1">Indian Palms</text>
<text x="2887.8" y="1664" font-size="82" font-weight="normal" fill="#00848a" textLength="351.5" lengthAdjust="spacingAndGlyphs" stroke="#00848a" stroke-width="1">Golf Course</text>
<text x="615" y="2416" font-size="82" font-weight="normal" fill="#00848a" textLength="440" lengthAdjust="spacingAndGlyphs" stroke="#00848a" stroke-width="1">Mountain View</text>
<text x="637" y="2515.5" font-size="82" font-weight="normal" fill="#00848a" textLength="396" lengthAdjust="spacingAndGlyphs" stroke="#00848a" stroke-width="1">Country Club</text>
<text x="1937" y="2405.5" font-size="82" font-weight="normal" fill="#00848a" textLength="674" lengthAdjust="spacingAndGlyphs" stroke="#00848a" stroke-width="1">Coachella/Stagecoach</text>
<text x="2007.5" y="2507.5" font-size="82" font-weight="normal" fill="#00848a" textLength="538" lengthAdjust="spacingAndGlyphs" stroke="#00848a" stroke-width="1">Music Festival Site</text>
<text x="2765" y="2581" font-size="82" font-weight="normal" fill="#00848a" textLength="427" lengthAdjust="spacingAndGlyphs" stroke="#00848a" stroke-width="1">The Plantation</text>
<text x="2841" y="2680.5" font-size="82" font-weight="normal" fill="#00848a" textLength="280.6" lengthAdjust="spacingAndGlyphs" stroke="#00848a" stroke-width="1">Golf Club</text>
<text x="673" y="3443" font-size="82" font-weight="normal" fill="#00848a" textLength="583.6" lengthAdjust="spacingAndGlyphs" stroke="#00848a" stroke-width="1">Hideaway Golf Club</text>
<text x="1785" y="3441" font-size="82" font-weight="normal" fill="#00848a" textLength="538" lengthAdjust="spacingAndGlyphs" stroke="#00848a" stroke-width="1">The Madison Club</text>
<text x="1922.8" y="1718.3" font-size="54" font-weight="bold" fill="#00848a" textLength="144.9" lengthAdjust="spacingAndGlyphs" stroke="#00848a" stroke-width="2">AVE 49</text>
<text x="2177.5" y="2197.3" font-size="54" font-weight="bold" fill="#00848a" textLength="145.5" lengthAdjust="spacingAndGlyphs" stroke="#00848a" stroke-width="2">AVE 50</text>
<text x="2080.3" y="2653.5" font-size="54" font-weight="bold" fill="#00848a" textLength="135.7" lengthAdjust="spacingAndGlyphs" stroke="#00848a" stroke-width="2">AVE 51</text>
<text x="981.1" y="3141.5" font-size="54" font-weight="bold" fill="#00848a" textLength="143.7" lengthAdjust="spacingAndGlyphs" stroke="#00848a" stroke-width="2">AVE 52</text>
<text transform="translate(1512.28,1586) rotate(-90)" x="0" y="0" font-size="54" font-weight="bold" fill="#00848a" stroke="#00848a" stroke-width="2" textLength="263.7" lengthAdjust="spacingAndGlyphs">MADISON ST</text>
<text transform="translate(2657.08,1605.5) rotate(-90)" x="0" y="0" font-size="54" font-weight="bold" fill="#00848a" stroke="#00848a" stroke-width="2" textLength="256.5" lengthAdjust="spacingAndGlyphs">MONROE ST</text>
<text x="2228.05" y="1409.25" font-size="80" font-weight="bold" fill="#ff00cc" textLength="322.9" lengthAdjust="spacingAndGlyphs" stroke="#ff00cc" stroke-width="2.5">Order your</text>
<text x="2256.85" y="1508.75" font-size="80" font-weight="bold" fill="#ff00cc" textLength="264.3" lengthAdjust="spacingAndGlyphs" stroke="#ff00cc" stroke-width="2.5">ride here</text>
<text x="915.95" y="2654.55" font-size="80" font-weight="bold" fill="#ff00cc" textLength="322.8" lengthAdjust="spacingAndGlyphs" stroke="#ff00cc" stroke-width="2.5">Order your</text>
<text x="943.75" y="2753.75" font-size="80" font-weight="bold" fill="#ff00cc" textLength="266.3" lengthAdjust="spacingAndGlyphs" stroke="#ff00cc" stroke-width="2.5">ride here</text>
<circle cx="2540.5" cy="1770.3" r="217.8" fill="none" stroke="#ff00cc" stroke-width="10.5"/>
<circle cx="1613.5" cy="2952" r="386.2" fill="none" stroke="#ff00cc" stroke-width="10.5"/>
</svg>
</body></html>
